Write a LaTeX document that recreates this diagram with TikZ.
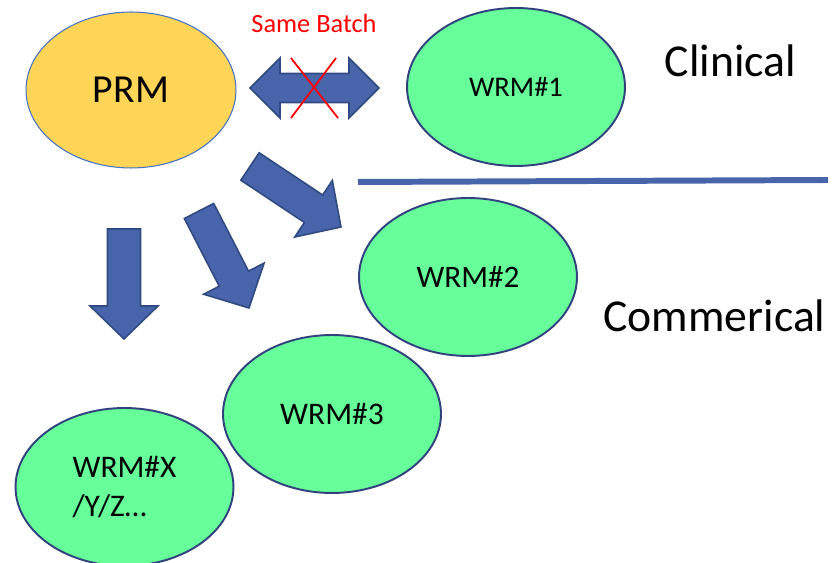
\documentclass[tikz,border=0pt]{standalone}
\usepackage{fontspec}
\setmainfont{Carlito}
\usepackage{tikz}
\usetikzlibrary{
  shapes.geometric, calc, positioning
}
\definecolor{prmyellow}{RGB}{255,213,87}
\definecolor{prmedge}{RGB}{68,114,196}
\definecolor{wrmgreen}{RGB}{102,255,153}
\definecolor{wrmedge}{RGB}{49,66,126}
\definecolor{arrowblue}{RGB}{72,100,170}
\definecolor{arrowedge}{RGB}{47,75,130}
\tikzstyle{wrm} = [ellipse, draw=wrmedge, line width=1.1pt, fill=wrmgreen, minimum width=4.36cm, minimum height=3.16cm, inner sep=0pt]
\tikzstyle{fatarrow} = [fill=arrowblue, draw=arrowedge, line width=0.9pt, line join=miter]
\tikzstyle{sidelabel} = [anchor=base, font=\fontsize{26}{31}\selectfont]

% block arrow from tail centre to tip
\newcommand{\blockarrow}[2]{%
  \coordinate (tail) at (#1);
  \coordinate (tip) at (#2);
  \coordinate (neck) at ($(tip)!0.66cm!(tail)$);
  \draw[fatarrow] ($(tail)!0.33cm!90:(tip)$) -- ($(neck)!0.33cm!-90:(tail)$)
    -- ($(neck)!0.68cm!-90:(tail)$) -- (tip) -- ($(neck)!0.68cm!90:(tail)$)
    -- ($(neck)!0.33cm!90:(tail)$) -- ($(tail)!0.33cm!-90:(tip)$) -- cycle;}

\begin{document}
\begin{tikzpicture}[x=0.02cm, y=-0.02cm]
  \useasboundingbox (0,0) rectangle (840,563);

  \node[ellipse, draw=prmedge, line width=0.6pt, fill=prmyellow, minimum width=4.2cm, minimum height=3.12cm, inner sep=0pt, font=\fontsize{22.6}{27}\selectfont] (prm) at (131,90) {PRM};
  \node[wrm, font=\fontsize{16.2}{19}\selectfont] (wrm1) at (516,87) {WRM\#1};
  \node[wrm, font=\fontsize{17.8}{21}\selectfont] (wrm2) at (468,277) {WRM\#2};
  \node[wrm, font=\fontsize{17.9}{21}\selectfont] (wrm3) at (332,414) {WRM\#3};
  \node[wrm, align=left, font=\fontsize{17.9}{22.7}\selectfont] (wrmx) at (124.5,487) {WRM\#X\\/Y/Z\dots};

  % same batch, crossed out
  \draw[fatarrow] (250,88) -- (280,58) -- (280,73.5) -- (349,73.5) -- (349,58) -- (379,88)
    -- (349,118) -- (349,102.5) -- (280,102.5) -- (280,118) -- cycle;
  \draw[red, line width=1pt] (291,58) -- (338,118);
  \draw[red, line width=1pt] (336,58) -- (291,118);
  \node[anchor=base, text=red, font=\fontsize{15}{18}\selectfont] (batch) at (314,33) {Same Batch};

  \blockarrow{124,229}{124,339}
  \blockarrow{199,211}{249,308}
  \blockarrow{250,166.5}{341,227}

  \draw[arrowblue, line width=3.4pt] (358,182) -- (828,180);
  \node[sidelabel] (clinical) at (730.5,77) {Clinical};
  \node[sidelabel] (commercial) at (714.5,332) {Commerical};
\end{tikzpicture}
\end{document}
